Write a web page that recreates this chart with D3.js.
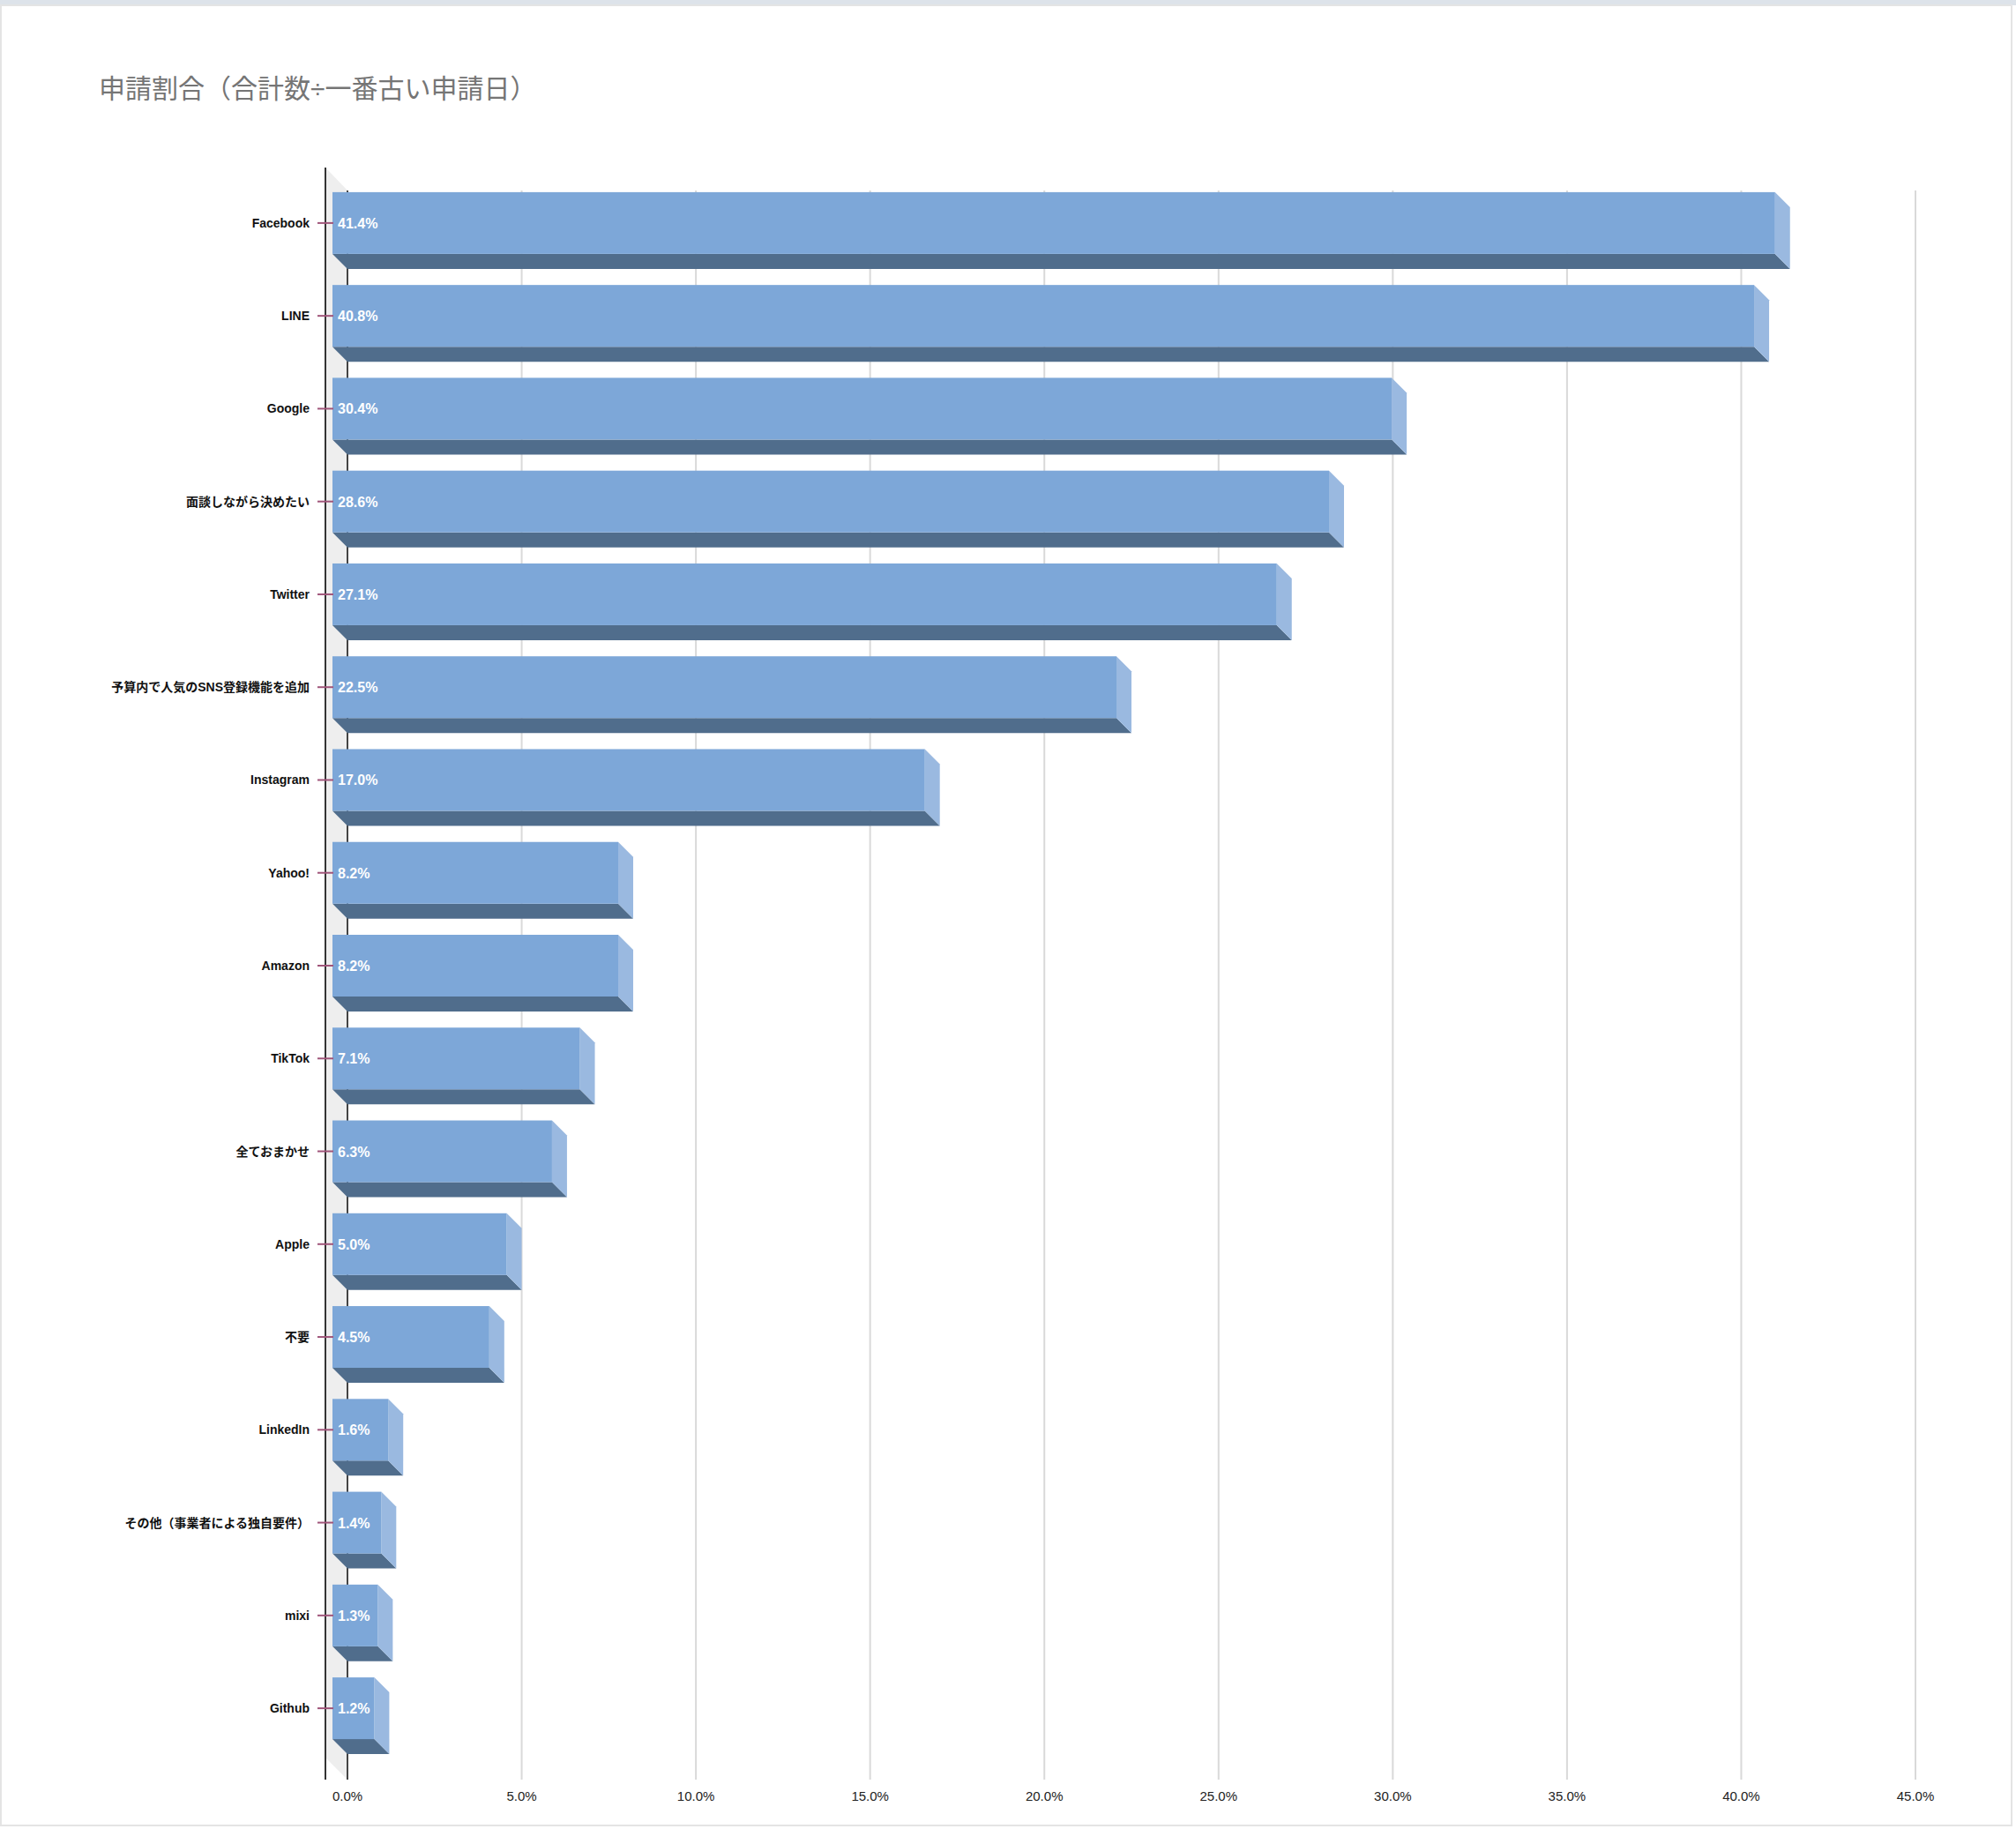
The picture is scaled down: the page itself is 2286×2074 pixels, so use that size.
<!DOCTYPE html>
<html><head><meta charset="utf-8">
<script src="https://cdn.jsdelivr.net/npm/d3@7"></script>
<style>
body{margin:0;background:#fff;}
svg{display:block;font-family:"Liberation Sans","Noto Sans CJK JP",sans-serif;}
</style></head><body>
<div id="chart"></div>
<script>
// data
var categories = ["Facebook","LINE","Google","面談しながら決めたい","Twitter","予算内で人気のSNS登録機能を追加","Instagram","Yahoo!","Amazon","TikTok","全ておまかせ","Apple","不要","LinkedIn","その他（事業者による独自要件）","mixi","Github"];
var values = [41.4,40.8,30.4,28.6,27.1,22.5,17.0,8.2,8.2,7.1,6.3,5.0,4.5,1.6,1.4,1.3,1.2];
var ticks = [0,5,10,15,20,25,30,35,40,45];

var W = 2286, H = 2074, depth = 17;
var svg = d3.select('#chart').append('svg').attr('width', W).attr('height', H);

// page frame
svg.append('rect').attr('x',0).attr('y',0).attr('width',W).attr('height',6).attr('fill','#dde3ea');
svg.append('rect').attr('x',1).attr('y',6).attr('width',W-6).attr('height',H-10)
  .attr('fill','none').attr('stroke','#e4e4e4').attr('stroke-width',2);

svg.append('text').attr('x',112).attr('y',111).attr('font-size',30).attr('fill','#757575')
  .text('申請割合（合計数÷一番古い申請日）');

var x = d3.scaleLinear().domain([0,45]).range([394,2172]);
var y = d3.scaleBand().domain(categories).range([200,1990]).paddingInner(0.335).paddingOuter(0.17);

// side wall
svg.append('path')
  .attr('d', `M369,190 L${394},${190+depth+9} L394,2018 L369,1993 Z`)
  .attr('fill','#eeeeee');

// grid lines
svg.selectAll('.grid').data(ticks.slice(1)).enter().append('line')
  .attr('x1', d => x(d)).attr('x2', d => x(d)).attr('y1',216).attr('y2',2018)
  .attr('stroke','#d9d9d9').attr('stroke-width',2);
svg.append('line').attr('x1',394).attr('x2',394).attr('y1',216).attr('y2',2018).attr('stroke','#444').attr('stroke-width',2);
svg.append('line').attr('x1',369).attr('x2',369).attr('y1',190).attr('y2',2018).attr('stroke','#333').attr('stroke-width',2);

// x axis labels
svg.selectAll('.xl').data(ticks).enter().append('text')
  .attr('x', d => x(d)).attr('y',2042).attr('text-anchor','middle').attr('font-size',15).attr('fill','#222')
  .text(d => d.toFixed(1) + '%');

var g = svg.selectAll('.bar').data(values).enter().append('g');
var top_ = (d,i) => y(categories[i]), bh = y.bandwidth();

// bottom (dark) face
g.append('path').attr('fill','#506d8c')
  .attr('d', (d,i) => { var t = top_(d,i)+bh, x0 = 377, x1 = x(d)-depth;
    return `M${x0},${t} L${x1},${t} L${x1+depth},${t+depth} L${x0+depth},${t+depth} Z`; });
// side face
g.append('path').attr('fill','#9ab9e0')
  .attr('d', (d,i) => { var t = top_(d,i), x1 = x(d)-depth;
    return `M${x1},${t} L${x1+depth},${t+depth} L${x1+depth},${t+bh+depth} L${x1},${t+bh} Z`; });
// front face
g.append('rect').attr('fill','#7da7d8')
  .attr('x',377).attr('y', (d,i) => top_(d,i)).attr('width', d => x(d)-depth-377).attr('height', bh);

g.append('text').attr('x',383).attr('y',(d,i) => top_(d,i)+bh/2+6)
  .attr('fill','#fff').attr('font-weight','bold').attr('font-size',16)
  .text(d => d.toFixed(1) + '%');

// category ticks and labels
g.append('line').attr('x1',360).attr('x2',378)
  .attr('y1',(d,i) => top_(d,i)+bh/2).attr('y2',(d,i) => top_(d,i)+bh/2)
  .attr('stroke','#a0557a').attr('stroke-width',2);
g.append('text').attr('x',351).attr('y',(d,i) => top_(d,i)+bh/2+5)
  .attr('text-anchor','end').attr('font-weight','bold').attr('font-size',14).attr('fill','#111')
  .text((d,i) => categories[i]);
</script></body></html>
